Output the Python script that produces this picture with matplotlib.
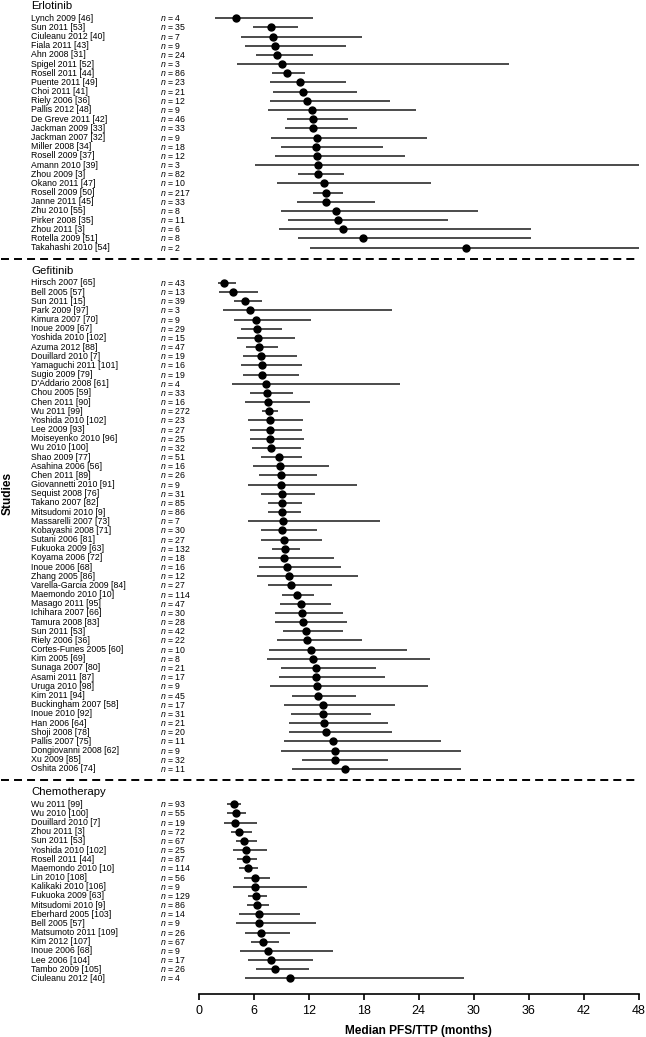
import matplotlib
matplotlib.use('Agg')
import matplotlib.pyplot as plt
from matplotlib.transforms import blended_transform_factory

plt.rcParams['font.family'] = ['Liberation Sans', 'DejaVu Sans']
plt.rcParams['mathtext.fontset'] = 'custom'
plt.rcParams['mathtext.it'] = 'Liberation Sans:italic'
plt.rcParams['mathtext.rm'] = 'Liberation Sans'

# Erlotinib
erl_names = ['Lynch 2009 [46]', 'Sun 2011 [53]', 'Ciuleanu 2012 [40]', 'Fiala 2011 [43]', 'Ahn 2008 [31]',
             'Spigel 2011 [52]', 'Rosell 2011 [44]', 'Puente 2011 [49]', 'Choi 2011 [41]', 'Riely 2006 [36]',
             'Pallis 2012 [48]', 'De Greve 2011 [42]', 'Jackman 2009 [33]', 'Jackman 2007 [32]', 'Miller 2008 [34]',
             'Rosell 2009 [37]', 'Amann 2010 [39]', 'Zhou 2009 [3]', 'Okano 2011 [47]', 'Rosell 2009 [50]',
             'Janne 2011 [45]', 'Zhu 2010 [55]', 'Pirker 2008 [35]', 'Zhou 2011 [3]', 'Rotella 2009 [51]',
             'Takahashi 2010 [54]']
erl_n = [4, 35, 7, 9, 24, 3, 86, 23, 21, 12, 9, 46, 33, 9, 18, 12, 3, 82, 10, 217, 33, 8, 11, 6, 8, 2]
erl_med = [4.05, 7.9, 8.1, 8.3, 8.5, 9.1, 9.6, 11.0, 11.4, 11.8, 12.3, 12.4, 12.5, 12.9, 12.8, 12.9, 13.0,
           13.0, 13.6, 13.9, 13.9, 15.0, 15.2, 15.7, 17.9, 29.1]
erl_lo = [1.8, 5.9, 4.6, 5.0, 6.2, 4.1, 8.0, 7.8, 8.1, 7.7, 7.5, 9.6, 9.4, 7.9, 8.9, 8.3, 6.1, 10.8, 8.5,
          12.4, 10.7, 9.0, 9.7, 8.7, 10.8, 12.1]
erl_hi = [12.5, 10.8, 17.8, 16.0, 12.5, 33.9, 11.6, 16.1, 17.2, 20.9, 23.7, 16.3, 17.2, 24.9, 20.1, 22.5,
          48.0, 15.8, 25.3, 15.7, 19.2, 30.5, 27.2, 36.3, 36.3, 48.0]

# Gefitinib
gef_names = ['Hirsch 2007 [65]', 'Bell 2005 [57]', 'Sun 2011 [15]', 'Park 2009 [97]', 'Kimura 2007 [70]',
             'Inoue 2009 [67]', 'Yoshida 2010 [102]', 'Azuma 2012 [88]', 'Douillard 2010 [7]',
             'Yamaguchi 2011 [101]', 'Sugio 2009 [79]', "D'Addario 2008 [61]", 'Chou 2005 [59]',
             'Chen 2011 [90]', 'Wu 2011 [99]', 'Yoshida 2010 [102]', 'Lee 2009 [93]', 'Moiseyenko 2010 [96]',
             'Wu 2010 [100]', 'Shao 2009 [77]', 'Asahina 2006 [56]', 'Chen 2011 [89]', 'Giovannetti 2010 [91]',
             'Sequist 2008 [76]', 'Takano 2007 [82]', 'Mitsudomi 2010 [9]', 'Massarelli 2007 [73]',
             'Kobayashi 2008 [71]', 'Sutani 2006 [81]', 'Fukuoka 2009 [63]', 'Koyama 2006 [72]',
             'Inoue 2006 [68]', 'Zhang 2005 [86]', 'Varella-Garcia 2009 [84]', 'Maemondo 2010 [10]',
             'Masago 2011 [95]', 'Ichihara 2007 [66]', 'Tamura 2008 [83]', 'Sun 2011 [53]', 'Riely 2006 [36]',
             'Cortes-Funes 2005 [60]', 'Kim 2005 [69]', 'Sunaga 2007 [80]', 'Asami 2011 [87]',
             'Uruga 2010 [98]', 'Kim 2011 [94]', 'Buckingham 2007 [58]', 'Inoue 2010 [92]', 'Han 2006 [64]',
             'Shoji 2008 [78]', 'Pallis 2007 [75]', 'Dongiovanni 2008 [62]', 'Xu 2009 [85]', 'Oshita 2006 [74]']
gef_n = [43, 13, 39, 3, 9, 29, 15, 47, 19, 16, 19, 4, 33, 16, 272, 23, 27, 25, 32, 51, 16, 26, 9, 31, 85,
         86, 7, 30, 27, 132, 18, 16, 12, 27, 114, 47, 30, 28, 42, 22, 10, 8, 21, 17, 9, 45, 17, 31, 21, 20,
         11, 9, 32, 11]
gef_med = [2.7, 3.7, 5.0, 5.6, 6.2, 6.3, 6.4, 6.6, 6.8, 6.9, 6.9, 7.3, 7.4, 7.5, 7.6, 7.7, 7.7, 7.8, 7.9,
           8.7, 8.8, 8.9, 8.9, 9.1, 9.1, 9.1, 9.2, 9.1, 9.3, 9.4, 9.3, 9.6, 9.8, 10.1, 10.7, 11.1, 11.2, 11.4,
           11.7, 11.8, 12.2, 12.4, 12.8, 12.8, 12.9, 13.0, 13.5, 13.5, 13.7, 13.9, 14.6, 14.8, 14.8, 15.9]
gef_lo = [2.1, 2.2, 3.8, 2.6, 3.8, 4.6, 4.1, 5.1, 4.8, 4.6, 4.8, 3.6, 5.6, 5.0, 6.9, 5.4, 5.6, 5.6, 5.8,
          6.8, 5.9, 6.5, 5.4, 6.8, 7.5, 7.5, 5.3, 6.8, 6.8, 8.0, 6.4, 6.6, 6.3, 7.5, 9.1, 8.8, 8.3, 8.3, 9.2,
          8.5, 7.6, 7.4, 9.0, 8.7, 7.8, 10.2, 9.3, 10.1, 9.8, 9.8, 9.3, 9.0, 11.3, 10.2]
gef_hi = [4.0, 6.4, 6.9, 21.1, 12.2, 9.1, 10.5, 8.6, 10.7, 11.2, 10.9, 21.9, 10.3, 12.1, 8.6, 11.4, 11.2,
          11.5, 11.1, 11.3, 14.2, 12.9, 17.3, 12.7, 11.2, 11.1, 19.8, 12.9, 13.4, 11.0, 14.7, 15.5, 17.4,
          14.5, 12.6, 14.4, 15.7, 16.2, 15.7, 17.8, 22.7, 25.2, 19.3, 20.3, 25.0, 17.1, 21.4, 18.8, 20.6,
          21.1, 26.4, 28.6, 20.6, 28.6]

# Chemotherapy
chemo_names = ['Wu 2011 [99]', 'Wu 2010 [100]', 'Douillard 2010 [7]', 'Zhou 2011 [3]', 'Sun 2011 [53]',
               'Yoshida 2010 [102]', 'Rosell 2011 [44]', 'Maemondo 2010 [10]', 'Lin 2010 [108]',
               'Kalikaki 2010 [106]', 'Fukuoka 2009 [63]', 'Mitsudomi 2010 [9]', 'Eberhard 2005 [103]',
               'Bell 2005 [57]', 'Matsumoto 2011 [109]', 'Kim 2012 [107]', 'Inoue 2006 [68]', 'Lee 2006 [104]',
               'Tambo 2009 [105]', 'Ciuleanu 2012 [40]']
chemo_n = [93, 55, 19, 72, 67, 25, 87, 114, 56, 9, 129, 86, 14, 9, 26, 67, 9, 17, 26, 4]
chemo_med = [3.8, 4.0, 3.9, 4.4, 4.9, 5.1, 5.1, 5.3, 6.1, 6.1, 6.2, 6.3, 6.5, 6.6, 6.8, 7.0, 7.5, 7.9, 8.3, 9.9]
chemo_lo = [3.1, 3.1, 2.7, 3.5, 4.0, 3.7, 4.2, 4.4, 4.9, 3.7, 5.4, 5.2, 4.4, 4.0, 5.0, 5.7, 4.5, 5.3, 6.2, 5.0]
chemo_hi = [4.6, 5.1, 6.3, 5.8, 6.3, 7.4, 6.3, 6.4, 7.7, 11.8, 7.4, 7.6, 11.0, 12.8, 9.9, 8.7, 14.6, 12.5,
            12.0, 28.9]

groups = [
    ('Erlotinib', erl_names, erl_n, erl_med, erl_lo, erl_hi),
    ('Gefitinib', gef_names, gef_n, gef_med, gef_lo, gef_hi),
    ('Chemotherapy', chemo_names, chemo_n, chemo_med, chemo_lo, chemo_hi),
]
xticks = [0, 6, 12, 18, 24, 30, 36, 42, 48]

fig = plt.figure(figsize=(6.46, 10.37), dpi=100)
ax = fig.add_axes([199 / 646, 43 / 1037, 439.6 / 646, 994 / 1037])
tr = blended_transform_factory(ax.transAxes, ax.transData)

gap = 3.85
start = 0.0
for gi, (title, names, ns, med, lo, hi) in enumerate(groups):
    ys = [start + i for i in range(len(names))]
    ax.hlines(ys, lo, hi, color='#1a1a1a', lw=1.1, zorder=2)
    ax.plot(med, ys, 'o', color='black', ms=5.0, zorder=3)
    ax.text(-0.382, start - 1.33, title, transform=tr, fontsize=8.2, va='center', ha='left')
    for y, nm, n in zip(ys, names, ns):
        ax.text(-0.382, y, nm, transform=tr, fontsize=6.3, va='center', ha='left')
        ax.text(-0.0887, y, r'$n$ = %d' % n, transform=tr, fontsize=6.3, va='center', ha='left')
    last = ys[-1]
    if gi < len(groups) - 1:
        ax.plot([-0.45, 1.0], [last + 1.25, last + 1.25], transform=tr, color='black', lw=1.4,
                ls=(0, (4.1, 2.6)), clip_on=False)
    start = last + gap

ax.set_xlim(0, 48)
ax.set_ylim((994 - 18.3) / 9.17, -18.3 / 9.17)
ax.set_xticks(xticks)
ax.set_xticklabels([str(t) for t in xticks], fontsize=9)
ax.set_yticks([])
for s in ['left', 'top', 'right']:
    ax.spines[s].set_visible(False)
ax.spines['bottom'].set_linewidth(1.2)
ax.tick_params(axis='x', length=4, width=1.2, pad=4)
ax.set_xlabel('Median PFS/TTP (months)', fontsize=8.6, fontweight='bold', labelpad=6)
fig.text(8 / 646, 1 - 493 / 1037, 'Studies', rotation=90, fontsize=8.6, fontweight='bold',
         va='center', ha='center')

fig.savefig('out.png', dpi=100)
